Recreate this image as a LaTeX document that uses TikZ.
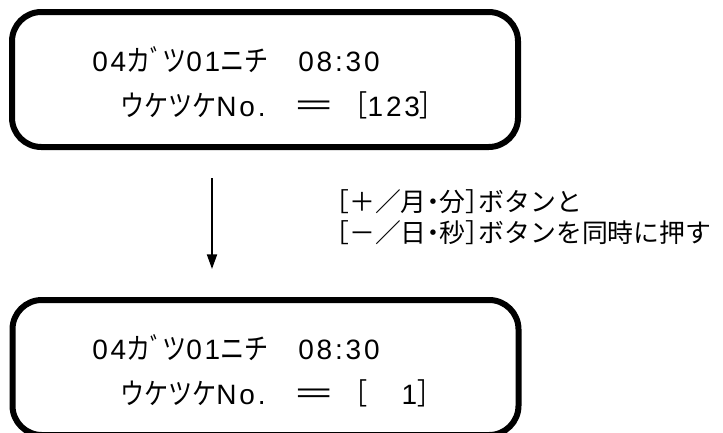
\documentclass[tikz,border=0pt]{standalone}
\usepackage{fontspec}
\setmainfont{Noto Sans CJK JP}
\newfontfamily\palfont[RawFeature=+palt]{Noto Sans CJK JP}
\newfontfamily\lcdjp[FakeStretch=0.82]{Noto Sans CJK JP}
\newfontfamily\latfont[LetterSpace=10]{Liberation Sans}
\newcommand\lat[1]{{\fontsize{21}{24}\latfont #1}}
\newcommand\pal[1]{{\palfont #1}}
\usetikzlibrary{arrows.meta}
\begin{document}
\begin{tikzpicture}[x=0.75pt,y=-0.75pt,
  panel/.style={draw,line width=4.5pt,rounded corners=22pt,minimum width=379.5pt,minimum height=101.25pt,inner sep=0pt},
  lcd/.style={anchor=base west,inner sep=0pt,font=\fontsize{22}{24}\lcdjp},
  note/.style={anchor=west,inner sep=0pt,font=\fontsize{19.4}{22}\selectfont},
  flow/.style={-{Triangle[length=11pt,width=7.5pt]},line width=1.5pt}]
\useasboundingbox (0,0) rectangle (723,432);
\node[panel] (before) at (265,79.5) {};
\node[panel] (after) at (265.5,367.5) {};
\node[lcd] (b1) at (92,71) {\lat{04}カﾞツ\lat{01}ニチ\hspace{22.5pt}\lat{08:30}};
\node[lcd] (b2) at (120,116) {ウケツケ\lat{No.}\hspace{20pt}\scalebox{1.8}[1]{＝}\hspace{6pt}［\lat{123}］};
\node[lcd] (a1) at (92,359) {\lat{04}カﾞツ\lat{01}ニチ\hspace{22.5pt}\lat{08:30}};
\node[lcd] (a2) at (120,404) {ウケツケ\lat{No.}\hspace{20pt}\scalebox{1.8}[1]{＝}\hspace{6pt}［\lat{\phantom{12}1}］};
\coordinate (s) at (212,178);
\coordinate (e) at (212,269);
\draw[flow] (s) -- (e);
\node[note] (n1) at (336,202) {\pal{［}＋／月\pal{・}分\pal{］}ボタンと};
\node[note] (n2) at (336,233) {\pal{［}－／日\pal{・}秒\pal{］}ボタンを同時に押す};
\end{tikzpicture}
\end{document}
